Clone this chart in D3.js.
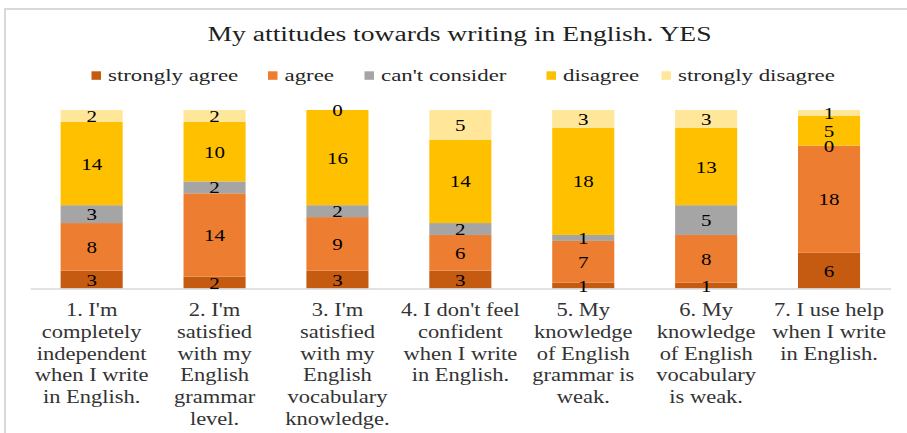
<!DOCTYPE html>
<html>
<head>
<meta charset="utf-8">
<script src="https://cdn.jsdelivr.net/npm/d3@7"></script>
<style>
  html, body { margin: 0; padding: 0; background: #fff; }
  svg { display: block; }
</style>
</head>
<body>
<svg id="chart" width="907" height="433"></svg>
<script>
// ---- data ----
const chartTitle = "My attitudes towards writing in English. YES";
const categories = [
  ["1. I'm", "completely", "independent", "when I write", "in English."],
  ["2. I'm", "satisfied", "with my", "English", "grammar", "level."],
  ["3. I'm", "satisfied", "with my", "English", "vocabulary", "knowledge."],
  ["4. I don't feel", "confident", "when I write", "in English."],
  ["5. My", "knowledge", "of English", "grammar is", "weak."],
  ["6. My", "knowledge", "of English", "vocabulary", "is weak."],
  ["7. I use help", "when I write", "in English."]
];
const seriesNames = ["strongly agree", "agree", "can't consider", "disagree", "strongly disagree"];
const stronglyAgree    = [3, 2, 3, 3, 1, 1, 6];
const agree            = [8, 14, 9, 6, 7, 8, 18];
const cantConsider     = [3, 2, 2, 2, 1, 5, 0];
const disagree         = [14, 10, 16, 14, 18, 13, 5];
const stronglyDisagree = [2, 2, 0, 5, 3, 3, 1];
const seriesColors = ["#C55A11", "#ED7D31", "#A5A5A5", "#FFC000", "#FFE699"];

// ---- build table for the stack ----
const seriesValues = [stronglyAgree, agree, cantConsider, disagree, stronglyDisagree];
const rows = categories.map((c, i) => {
  const r = { idx: i };
  seriesNames.forEach((s, k) => { r[s] = seriesValues[k][i]; });
  return r;
});
const stacked = d3.stack().keys(seriesNames)(rows);

// ---- layout ----
const svg = d3.select("#chart");
const FONT = "'Liberation Serif', 'Times New Roman', serif";
const plot = { left: 30.2, right: 890.5, top: 110, bottom: 288.5 };

const x = d3.scaleBand()
  .domain(d3.range(categories.length))
  .range([plot.left, plot.right])
  .paddingInner(0.495)
  .paddingOuter(0.2475);
const y = d3.scaleLinear().domain([0, 30]).range([plot.bottom, plot.top]);

// text helper: serif glyphs drawn slightly wide
function wideText(sel, px, py, str, size, sx, anchor, fill) {
  return sel.append("text")
    .attr("transform", `translate(${px},${py}) scale(${sx},1)`)
    .attr("text-anchor", anchor)
    .attr("font-family", FONT)
    .attr("font-size", size)
    .attr("fill", fill)
    .text(str);
}

// chart frame (top and left edges)
svg.append("path")
  .attr("d", "M5,433 V9 H907")
  .attr("fill", "none")
  .attr("stroke", "#d9d9d9")
  .attr("stroke-width", 2);

// title
wideText(svg, 459.5, 40.5, chartTitle, 20, 1.38, "middle", "#1f1f1f");

// legend
const legendX = [91.5, 268, 364.5, 546.5, 661.5];
const legend = svg.append("g");
seriesNames.forEach((name, k) => {
  legend.append("rect")
    .attr("x", legendX[k]).attr("y", 71.3)
    .attr("width", 9.5).attr("height", 8.5)
    .attr("fill", seriesColors[k]);
  wideText(legend, legendX[k] + 16.5, 80.5, name, 16, 1.43, "start", "#262626");
});

// bars
const barLayer = svg.append("g");
stacked.forEach((layer, k) => {
  barLayer.append("g")
    .attr("fill", seriesColors[k])
    .selectAll("rect")
    .data(layer)
    .join("rect")
    .attr("x", d => x(d.data.idx))
    .attr("y", d => y(d[1]))
    .attr("width", x.bandwidth())
    .attr("height", d => y(d[0]) - y(d[1]));
});

// category axis line
svg.append("g")
  .attr("transform", `translate(0,${plot.bottom})`)
  .call(d3.axisBottom(x).tickSize(0).tickFormat(""))
  .call(g => g.select(".domain").attr("stroke", "#d9d9d9").attr("stroke-width", 1.5));

// value labels, centred in each segment
const labelLayer = svg.append("g");
stacked.forEach((layer) => {
  layer.forEach(d => {
    const v = d[1] - d[0];
    const cx = x(d.data.idx) + x.bandwidth() / 2;
    const cy = (y(d[0]) + y(d[1])) / 2;
    wideText(labelLayer, cx, cy + 6, String(v), 17.5, 1.2, "middle", "#000000");
  });
});

// category labels
const catLayer = svg.append("g");
categories.forEach((lines, i) => {
  const cx = x(i) + x.bandwidth() / 2;
  lines.forEach((ln, j) => {
    wideText(catLayer, cx, 316 + j * 21.8, ln, 18, 1.25, "middle", "#333333");
  });
});
</script>
</body>
</html>
